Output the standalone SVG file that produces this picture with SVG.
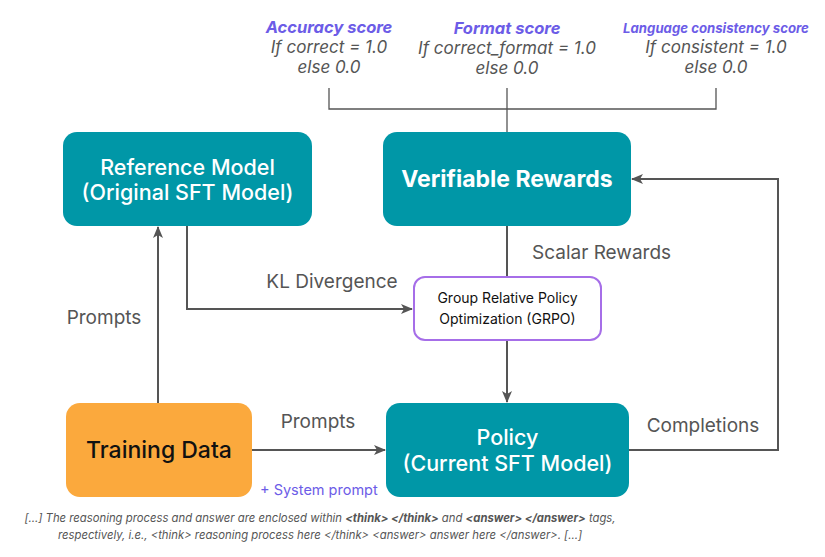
<svg xmlns="http://www.w3.org/2000/svg" width="825" height="557" viewBox="0 0 825 557">
<defs>
<style>
.box{fill:#0097A7}
.wt{fill:#fff;font-family:Inter,"Liberation Sans",sans-serif;text-anchor:middle;font-weight:500}
.wb{font-weight:700}
.lbl{fill:#555;font-family:Inter,"Liberation Sans",sans-serif;font-size:19px}
.sc{fill:#6c5ce7;font-family:Inter,"Liberation Sans",sans-serif;font-style:italic;font-weight:700;text-anchor:middle}
.it{fill:#555;font-family:Inter,"Liberation Sans",sans-serif;font-style:italic;font-size:17px;text-anchor:middle}
.ft{fill:#555;font-family:Inter,"Liberation Sans",sans-serif;font-style:italic;font-size:11.3px;text-anchor:middle}
.ln{fill:none;stroke:#555;stroke-width:2}
.thin{fill:none;stroke:#555;stroke-width:1.3}
</style>
<marker id="ah" viewBox="0 0 12 10" refX="11" refY="5" markerWidth="12" markerHeight="10" markerUnits="userSpaceOnUse" orient="auto">
<path d="M0,0 L12,5 L0,10 L3,5 z" fill="#555"/>
</marker>
</defs>
<rect width="825" height="557" fill="#fff"/>

<g id="scores">
<text class="sc" x="329" y="33" font-size="16.5">Accuracy score</text>
<text class="it" x="329" y="53">If correct = 1.0</text>
<text class="it" x="329" y="73">else 0.0</text>
<text class="sc" x="507" y="34" font-size="16.5">Format score</text>
<text class="it" x="507" y="54">If correct_format = 1.0</text>
<text class="it" x="507" y="74">else 0.0</text>
<text class="sc" x="716" y="33" font-size="13.2">Language consistency score</text>
<text class="it" x="716" y="53">If consistent = 1.0</text>
<text class="it" x="716" y="73">else 0.0</text>
</g>

<g id="connectors">
<path class="thin" d="M329,88 V109 H716 V88"/>
<path class="thin" d="M507,88 V132"/>
<path class="ln" d="M507,226 V277"/>
<path class="ln" d="M507,340 V402" marker-end="url(#ah)"/>
<path class="ln" d="M187,226 V309 H412" marker-end="url(#ah)"/>
<path class="ln" d="M158,403 V227" marker-end="url(#ah)"/>
<path class="ln" d="M252,450 H385" marker-end="url(#ah)"/>
<path class="ln" d="M629,450 H778 V179 H632" marker-end="url(#ah)"/>
</g>

<g id="labels">
<text class="lbl" x="332" y="288" text-anchor="middle">KL Divergence</text>
<text class="lbl" x="532" y="259">Scalar Rewards</text>
<text class="lbl" x="104" y="324" text-anchor="middle">Prompts</text>
<text class="lbl" x="318" y="428" text-anchor="middle">Prompts</text>
<text class="lbl" x="703" y="432" text-anchor="middle">Completions</text>
<text x="260" y="495" fill="#6c5ce7" font-family="Inter,'Liberation Sans',sans-serif" font-size="14.5">+ System prompt</text>
</g>

<g id="reference-model">
<rect class="box" x="63" y="132" width="249" height="94" rx="14"/>
<text class="wt" x="187.5" y="175" font-size="21.5">Reference Model</text>
<text class="wt" x="187.5" y="200" font-size="21.5">(Original SFT Model)</text>
</g>

<g id="verifiable-rewards">
<rect class="box" x="383" y="132" width="248" height="94" rx="14"/>
<text class="wt wb" x="507" y="187" font-size="23">Verifiable Rewards</text>
</g>

<g id="grpo">
<rect x="414" y="277" width="187" height="63" rx="11" fill="#fff" stroke="#a66ee8" stroke-width="2"/>
<text x="507.5" y="303" font-family="Inter,'Liberation Sans',sans-serif" font-size="14" fill="#111" text-anchor="middle">Group Relative Policy</text>
<text x="507.5" y="324" font-family="Inter,'Liberation Sans',sans-serif" font-size="14" fill="#111" text-anchor="middle">Optimization (GRPO)</text>
</g>

<g id="training-data">
<rect x="66" y="403" width="186" height="94" rx="14" fill="#FBA93D"/>
<text x="159" y="458" font-family="Inter,'Liberation Sans',sans-serif" font-size="23" font-weight="500" fill="#111" text-anchor="middle">Training Data</text>
</g>

<g id="policy">
<rect class="box" x="386" y="403" width="243" height="94" rx="14"/>
<text class="wt" x="507.5" y="445" font-size="21.5">Policy</text>
<text class="wt" x="507.5" y="471" font-size="21.5">(Current SFT Model)</text>
</g>

<g id="footer">
<text class="ft" x="320" y="522">[...] The reasoning process and answer are enclosed within <tspan font-weight="700">&lt;think&gt; &lt;/think&gt;</tspan> and <tspan font-weight="700">&lt;answer&gt; &lt;/answer&gt;</tspan> tags,</text>
<text class="ft" x="320" y="539">respectively, i.e., &lt;think&gt; reasoning process here &lt;/think&gt; &lt;answer&gt; answer here &lt;/answer&gt;. [...]</text>
</g>
</svg>
